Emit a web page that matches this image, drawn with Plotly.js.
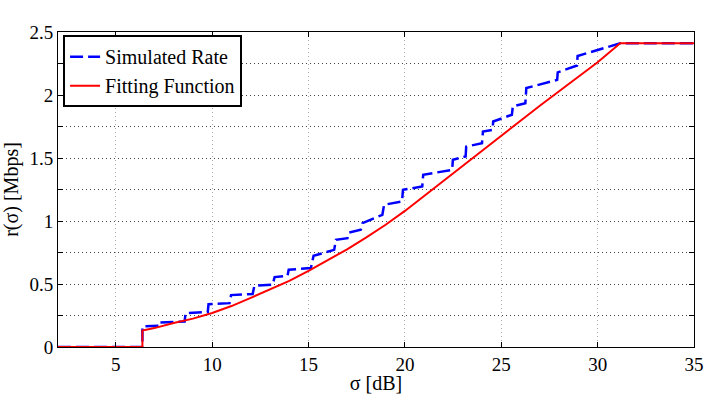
<!DOCTYPE html>
<html>
<head>
<meta charset="utf-8">
<script src="https://cdn.plot.ly/plotly-3.0.1.min.js"></script>
<style>
  body { margin: 0; background: #fff; }
  #plot { width: 706px; height: 394px; }
</style>
</head>
<body>
<div id="plot"></div>
<script>
// simulated rate (staircase)
var simSigma = [2, 6.38, 6.38, 7.27, 7.27, 8.57, 8.62, 9.77, 9.81, 10.9, 10.98, 12.1, 12.19,
  13.14, 13.24, 13.91, 13.97, 15.12, 15.26, 16.33, 16.42, 17.02, 17.1, 17.71, 17.8,
  18.83, 18.92, 19.85, 19.9, 20.9, 20.95, 22.45, 22.49, 23.15, 23.18, 24.0, 24.05,
  24.55, 24.58, 25.55, 25.6, 26.25, 26.3, 27.9, 27.93, 28.93, 28.96, 31.17, 35];
var simRate = [0, 0, 0.163, 0.17, 0.194, 0.202, 0.269, 0.277, 0.34, 0.348, 0.412, 0.42, 0.486,
  0.494, 0.555, 0.565, 0.613, 0.626, 0.724, 0.771, 0.851, 0.864, 0.909, 0.93, 0.983,
  1.049, 1.129, 1.155, 1.248, 1.274, 1.367, 1.406, 1.486, 1.512, 1.59, 1.618, 1.71,
  1.724, 1.79, 1.843, 1.91, 1.935, 2.055, 2.12, 2.18, 2.234, 2.31, 2.41, 2.41];

// fitting function
var fitSigma = [2, 6.38, 6.38, 7, 8, 9, 10, 11, 12, 13, 14, 15, 16, 17, 18, 19, 20,
  21, 22, 23, 24, 25, 26, 27, 28, 29, 30, 31.17, 35];
var fitRate = [0, 0, 0.131, 0.15, 0.19, 0.225, 0.27, 0.325, 0.39, 0.455, 0.525, 0.605, 0.69,
  0.775, 0.87, 0.97, 1.08, 1.2, 1.32, 1.44, 1.56, 1.68, 1.8, 1.915, 2.03, 2.145, 2.26, 2.41, 2.41];

var serif = '"Liberation Serif", "Times New Roman", serif';
var tickFont = {family: serif, size: 19, color: '#000'};

var data = [{
  x: simSigma, y: simRate,
  type: 'scatter', mode: 'lines',
  name: 'Simulated Rate',
  line: {color: '#0000ff', width: 2.5, dash: '13px,5px'}
}, {
  x: fitSigma, y: fitRate,
  type: 'scatter', mode: 'lines',
  name: 'Fitting Function',
  line: {color: '#ff0000', width: 2}
}];

var layout = {
  width: 706, height: 394,
  margin: {l: 58, r: 12, t: 32, b: 47},
  paper_bgcolor: '#fff', plot_bgcolor: '#fff',
  font: {family: serif, size: 19, color: '#000'},
  showlegend: true,
  hovermode: false,
  legend: {
    x: 0.008, y: 0.99, xanchor: 'left', yanchor: 'top',
    bgcolor: '#fff', bordercolor: '#000', borderwidth: 2,
    font: {family: serif, size: 20, color: '#000'},
    tracegroupgap: 0
  },
  xaxis: {
    range: [2, 35], tick0: 0, dtick: 5, tickfont: tickFont,
    showline: true, linecolor: '#000', linewidth: 1, mirror: 'ticks',
    ticks: 'inside', ticklen: 5, tickcolor: '#000',
    showgrid: true, gridcolor: '#aaa', griddash: '1px,3px', gridwidth: 1,
    zeroline: false,
    title: {text: 'σ [dB]', font: {family: serif, size: 20}, standoff: 4}
  },
  yaxis: {
    range: [0, 2.5], tick0: 0, dtick: 0.5, tickfont: tickFont,
    showline: true, linecolor: '#000', linewidth: 1, mirror: 'ticks',
    ticks: 'inside', ticklen: 5, tickcolor: '#000',
    showgrid: true, gridcolor: '#444', griddash: '1px,3px', gridwidth: 1,
    zeroline: false,
    minor: {dtick: 0.25, showgrid: true, gridcolor: '#444', griddash: '1px,3px',
      ticks: 'inside', ticklen: 5, tickcolor: '#000'},
    title: {text: 'r(σ) [Mbps]', font: {family: serif, size: 20}, standoff: 6}
  }
};

Plotly.newPlot('plot', data, layout, {displayModeBar: false, staticPlot: true});
</script>
</body>
</html>
